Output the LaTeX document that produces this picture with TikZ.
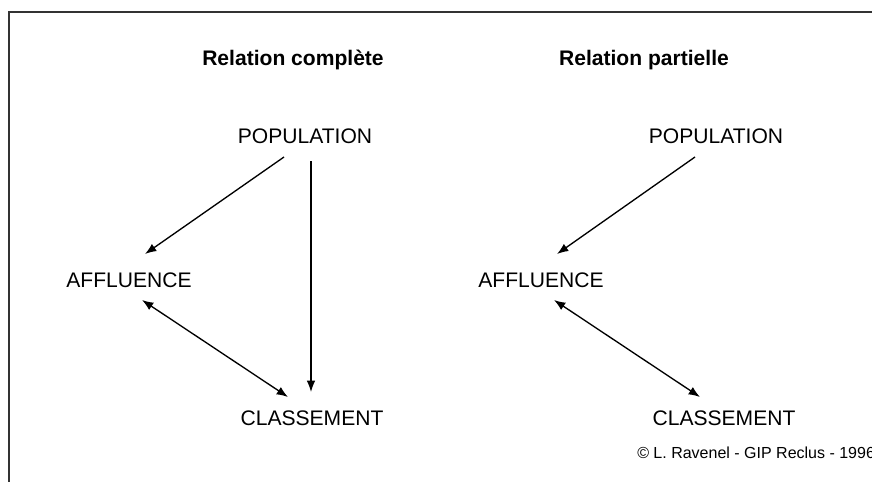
\documentclass[tikz,border=0pt]{standalone}
\usepackage{fontspec}
\setmainfont{Liberation Sans}
\usepackage{tikz}
\usetikzlibrary{arrows.meta}

\tikzset{
  lbl/.style={inner sep=0pt,anchor=base,font=\fontsize{15.8}{18}\selectfont},
  ttl/.style={lbl,font=\fontsize{15.8}{18}\selectfont\bfseries},
  arr/.style={line width=1pt,-{Latex[length=8.5pt,width=6.5pt]}},
  dblarr/.style={line width=1pt,{Latex[length=8.5pt,width=6.5pt]}-{Latex[length=8.5pt,width=6.5pt]}}
}

\begin{document}
\begin{tikzpicture}[x=0.75pt,y=-0.75pt]
\useasboundingbox (0,0) rectangle (872,482);
\draw[line width=1pt,black!80] (9,520) |- (920,12);

\node[ttl] (titleA) at (293,65) {Relation complète};
\node[ttl] (titleB) at (644,65) {Relation partielle};

\node[lbl] (popA) at (305,143) {POPULATION};
\node[lbl] (affA) at (129,287) {AFFLUENCE};
\node[lbl] (claA) at (312,425) {CLASSEMENT};

\node[lbl] (popB) at (716,143) {POPULATION};
\node[lbl] (affB) at (541,287) {AFFLUENCE};
\node[lbl] (claB) at (724,425) {CLASSEMENT};

\draw[arr] ([shift={(-21,14)}]popA.base) -- ([shift={(16,-33)}]affA.base);
\draw[arr] ([shift={(6,18)}]popA.base) -- ([shift={(-1,-33)}]claA.base);
\draw[dblarr] ([shift={(13,13)}]affA.base) -- ([shift={(-24,-28)}]claA.base);

\draw[arr] ([shift={(-21,14)}]popB.base) -- ([shift={(16,-33)}]affB.base);
\draw[dblarr] ([shift={(13,13)}]affB.base) -- ([shift={(-24,-28)}]claB.base);

\node[lbl,anchor=base west,font=\fontsize{12}{14}\selectfont] (credit) at (637,458) {© L. Ravenel - GIP Reclus - 1996};
\end{tikzpicture}
\end{document}
